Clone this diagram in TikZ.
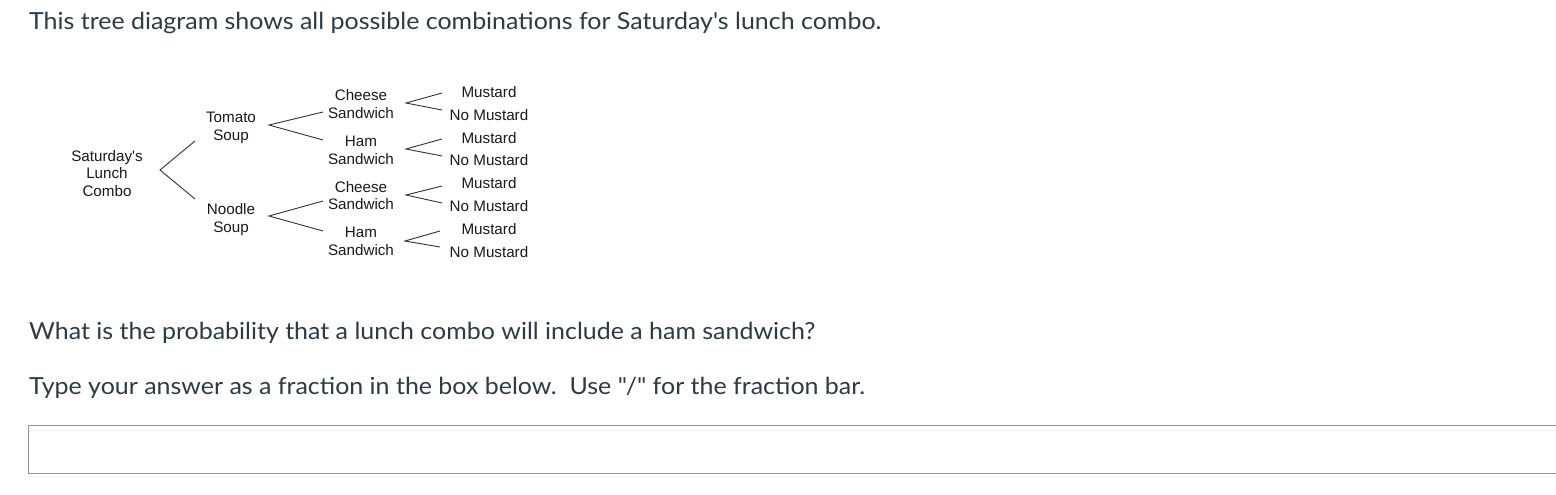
\documentclass[tikz,border=0pt]{standalone}
\usepackage{fontspec}
\setmainfont{Lato}
\newfontfamily\qfont[FakeStretch=1.062,Ligatures=TeXOff]{Lato}
\newfontfamily\treefont[Ligatures=TeXOff]{Liberation Sans}
\definecolor{maintext}{HTML}{2D3B45}
\definecolor{treetext}{HTML}{1A1A1A}
\definecolor{treeline}{HTML}{333333}
\definecolor{boxline}{HTML}{959595}
\definecolor{boxshadow}{HTML}{F2F2F2}
\tikzset{
  qtext/.style={anchor=base west, inner sep=0pt, text=maintext, font=\qfont\fontsize{23.5}{28}\selectfont},
  tnode/.style={align=center, inner sep=0pt, text=treetext, font=\treefont\fontsize{15.2}{17.6}\selectfont},
  branch/.style={draw=treeline, line width=0.9pt}
}
\begin{document}
\begin{tikzpicture}[x=1pt,y=-1pt]
\useasboundingbox (0,0) rectangle (1556,495);
\fill[white] (0,0) rectangle (1556,495);
% texts
\node[qtext] (title) at (29,29.5) {This tree diagram shows all possible combinations for Saturday's lunch combo.};
\node[qtext] (q1) at (29,339) {What is the probability that a lunch combo will include a ham sandwich?};
\node[qtext] (q2) at (29,394) {Type your answer as a fraction in the box below.\ \ Use "/" for the fraction bar.};
% answer box
\coordinate (boxtl) at (28.5,425.5);
\coordinate (boxbl) at (28.5,473.5);
\coordinate (boxtr) at (1556,425.5);
\coordinate (boxbr) at (1556,473.5);
\draw[boxshadow, line width=1pt] (29,476) -- (1556,476);
\draw[boxshadow, line width=1pt] (29,430) -- (1556,430);
\draw[boxline, line width=1pt] (boxtr) -- (boxtl) -- (boxbl) -- (boxbr);
% tree nodes
\node[tnode] (root) at (107,173.5) {Saturday's\\Lunch\\Combo};
\node[tnode] (tom) at (231,128) {Tomato\\Soup};
\node[tnode] (noo) at (231,219.5) {Noodle\\Soup};
\node[tnode] (c1) at (361,104) {Cheese\\Sandwich};
\node[tnode] (h1) at (361,150.5) {Ham\\Sandwich};
\node[tnode] (c2) at (361,195.5) {Cheese\\Sandwich};
\node[tnode] (h2) at (361,241.5) {Ham\\Sandwich};
\foreach \n/\y in {1/92.5,2/138.5,3/183.5,4/229.5}{
  \node[tnode] (m\n) at (489,\y) {Mustard};
}
\foreach \n/\y in {1/115,2/160.5,3/206,4/252}{
  \node[tnode] (nm\n) at (489,\y) {No Mustard};
}
% branch points
\coordinate (rA) at (160,170);
\coordinate (rT) at (195,141);
\coordinate (rN) at (195,199);
\coordinate (tA) at (269,125);
\coordinate (tC) at (323,112);
\coordinate (tH) at (323,140);
\coordinate (nA) at (269,216);
\coordinate (nC) at (323,201);
\coordinate (nH) at (323,231);
\coordinate (s1A) at (406,103);
\coordinate (s1M) at (442,93);
\coordinate (s1N) at (442,110);
\coordinate (s2A) at (406,149);
\coordinate (s2M) at (442,139);
\coordinate (s2N) at (442,156);
\coordinate (s3A) at (406,195);
\coordinate (s3M) at (442,186);
\coordinate (s3N) at (442,203);
\coordinate (s4A) at (405,241);
\coordinate (s4M) at (440,231);
\coordinate (s4N) at (440,247);
\draw[branch] (rT) -- (rA) -- (rN);
\draw[branch] (tC) -- (tA) -- (tH);
\draw[branch] (nC) -- (nA) -- (nH);
\draw[branch] (s1M) -- (s1A) -- (s1N);
\draw[branch] (s2M) -- (s2A) -- (s2N);
\draw[branch] (s3M) -- (s3A) -- (s3N);
\draw[branch] (s4M) -- (s4A) -- (s4N);
\end{tikzpicture}
\end{document}
